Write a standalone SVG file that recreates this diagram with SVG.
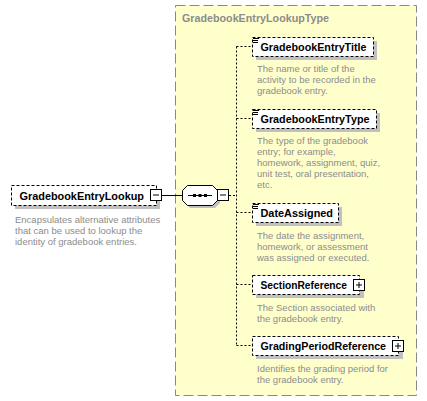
<svg xmlns="http://www.w3.org/2000/svg" width="427" height="401" viewBox="0 0 427 401">
<style>
.bg{fill:#ffffff}
.type{fill:#ffffcc;stroke:#888888;stroke-width:1;stroke-dasharray:10,4}
.typetitle{font-family:"Liberation Sans",Arial,sans-serif;font-weight:bold;font-size:11px;fill:#8c8c8c}
.shadow{fill:#c0c0c0}
.box{fill:#ffffff;stroke:#000000;stroke-width:1;stroke-dasharray:3,2}
.name{font-family:"Liberation Sans",Arial,sans-serif;font-weight:bold;font-size:11px;fill:#000000}
.desc{font-family:"Liberation Sans",Arial,sans-serif;font-size:9.5px;fill:#8c8c8c}
.btn{fill:#ffffff;stroke:#000000;stroke-width:1}
.sign{stroke:#000000;stroke-width:1;fill:none}
.dash{stroke:#000000;stroke-width:1;stroke-dasharray:2,2;fill:none}
.solid{stroke:#000000;stroke-width:1;fill:none}
.icon{stroke:#000000;stroke-width:1}
</style>
<rect class="bg" x="0" y="0" width="427" height="401"/>
<g id="GradebookEntryLookupType">
<rect class="type" x="175.5" y="5.5" width="241" height="390"/>
<text class="typetitle" x="182" y="22" textLength="147" lengthAdjust="spacingAndGlyphs">GradebookEntryLookupType</text>
</g>
<g id="connectors">
<line class="solid" x1="162" y1="195.5" x2="182" y2="195.5"/>
<line class="dash" x1="229" y1="195.5" x2="236.5" y2="195.5"/>
<line class="dash" x1="236.5" y1="46.5" x2="236.5" y2="345.5"/>
<line class="dash" x1="236.5" y1="46.5" x2="252" y2="46.5"/>
<line class="dash" x1="236.5" y1="118.5" x2="252" y2="118.5"/>
<line class="dash" x1="236.5" y1="212.5" x2="252" y2="212.5"/>
<line class="dash" x1="236.5" y1="284.5" x2="252" y2="284.5"/>
<line class="dash" x1="236.5" y1="345.5" x2="252" y2="345.5"/>
</g>
<g id="GradebookEntryLookup">
<rect class="shadow" x="15" y="189" width="145" height="20"/>
<rect class="box" x="11.5" y="185.5" width="145" height="20"/>
<text class="name" x="19.5" y="200" textLength="124.5" lengthAdjust="spacingAndGlyphs">GradebookEntryLookup</text>
<rect class="btn" x="150.5" y="189.5" width="11" height="11"/>
<line class="sign" x1="153" y1="195" x2="159" y2="195"/>
<text class="desc" x="15" y="222.5">Encapsulates alternative attributes</text>
<text class="desc" x="15" y="233.5">that can be used to lookup the</text>
<text class="desc" x="15" y="244.5">identity of gradebook entries.</text>
</g>
<g id="sequence">
<polygon class="shadow" points="190,188 215,188 220,193 220,203 215,208 190,208 185,203 185,193"/>
<polygon class="btn" points="187.5,185.5 212.5,185.5 217.5,190.5 217.5,200.5 212.5,205.5 187.5,205.5 182.5,200.5 182.5,190.5"/>
<line class="solid" x1="188" y1="195.5" x2="212" y2="195.5"/>
<rect x="193" y="194" width="3" height="3" fill="#000"/>
<rect x="198.5" y="194" width="3" height="3" fill="#000"/>
<rect x="204" y="194" width="3" height="3" fill="#000"/>
<rect class="btn" x="217.5" y="189.5" width="11" height="11"/>
<line class="sign" x1="220" y1="195" x2="226" y2="195"/>
</g>
<g id="GradebookEntryTitle">
<rect class="shadow" x="256" y="41" width="121" height="19"/>
<rect class="box" x="252.5" y="37.5" width="121" height="19"/>
<line class="icon" x1="253" y1="38.5" x2="259" y2="38.5"/>
<line class="icon" x1="253" y1="40.5" x2="258" y2="40.5"/>
<line class="icon" x1="253" y1="42.5" x2="258" y2="42.5"/>
<text class="name" x="260.5" y="51" textLength="106" lengthAdjust="spacingAndGlyphs">GradebookEntryTitle</text>
<text class="desc" x="257" y="72">The name or title of the</text>
<text class="desc" x="257" y="83">activity to be recorded in the</text>
<text class="desc" x="257" y="94">gradebook entry.</text>
</g>
<g id="GradebookEntryType">
<rect class="shadow" x="256" y="113" width="124" height="19"/>
<rect class="box" x="252.5" y="109.5" width="124" height="19"/>
<line class="icon" x1="253" y1="110.5" x2="259" y2="110.5"/>
<line class="icon" x1="253" y1="112.5" x2="258" y2="112.5"/>
<line class="icon" x1="253" y1="114.5" x2="258" y2="114.5"/>
<text class="name" x="260.5" y="123" textLength="109" lengthAdjust="spacingAndGlyphs">GradebookEntryType</text>
<text class="desc" x="257" y="144">The type of the gradebook</text>
<text class="desc" x="257" y="155">entry; for example,</text>
<text class="desc" x="257" y="166">homework, assignment, quiz,</text>
<text class="desc" x="257" y="177">unit test, oral presentation,</text>
<text class="desc" x="257" y="188">etc.</text>
</g>
<g id="DateAssigned">
<rect class="shadow" x="256" y="207" width="86" height="19"/>
<rect class="box" x="252.5" y="203.5" width="86" height="19"/>
<line class="icon" x1="253" y1="204.5" x2="259" y2="204.5"/>
<line class="icon" x1="253" y1="206.5" x2="258" y2="206.5"/>
<line class="icon" x1="253" y1="208.5" x2="258" y2="208.5"/>
<text class="name" x="260.5" y="217" textLength="72.5" lengthAdjust="spacingAndGlyphs">DateAssigned</text>
<text class="desc" x="257" y="238.5">The date the assignment,</text>
<text class="desc" x="257" y="249.5">homework, or assessment</text>
<text class="desc" x="257" y="260.5">was assigned or executed.</text>
</g>
<g id="SectionReference">
<rect class="shadow" x="256" y="279" width="108" height="19"/>
<rect class="box" x="252.5" y="275.5" width="107" height="19"/>
<rect class="btn" x="353.5" y="279.5" width="11" height="11"/>
<line class="sign" x1="356" y1="285" x2="362" y2="285"/>
<line class="sign" x1="359" y1="282" x2="359" y2="288"/>
<text class="name" x="260.5" y="289" textLength="86.5" lengthAdjust="spacingAndGlyphs">SectionReference</text>
<text class="desc" x="257" y="310.5">The Section associated with</text>
<text class="desc" x="257" y="321.5">the gradebook entry.</text>
</g>
<g id="GradingPeriodReference">
<rect class="shadow" x="256" y="340" width="147" height="19"/>
<rect class="box" x="252.5" y="336.5" width="146" height="19"/>
<rect class="btn" x="392.5" y="340.5" width="11" height="11"/>
<line class="sign" x1="395" y1="346" x2="401" y2="346"/>
<line class="sign" x1="398" y1="343" x2="398" y2="349"/>
<text class="name" x="260.5" y="350" textLength="125.5" lengthAdjust="spacingAndGlyphs">GradingPeriodReference</text>
<text class="desc" x="257" y="372">Identifies the grading period for</text>
<text class="desc" x="257" y="383">the gradebook entry.</text>
</g>
</svg>
